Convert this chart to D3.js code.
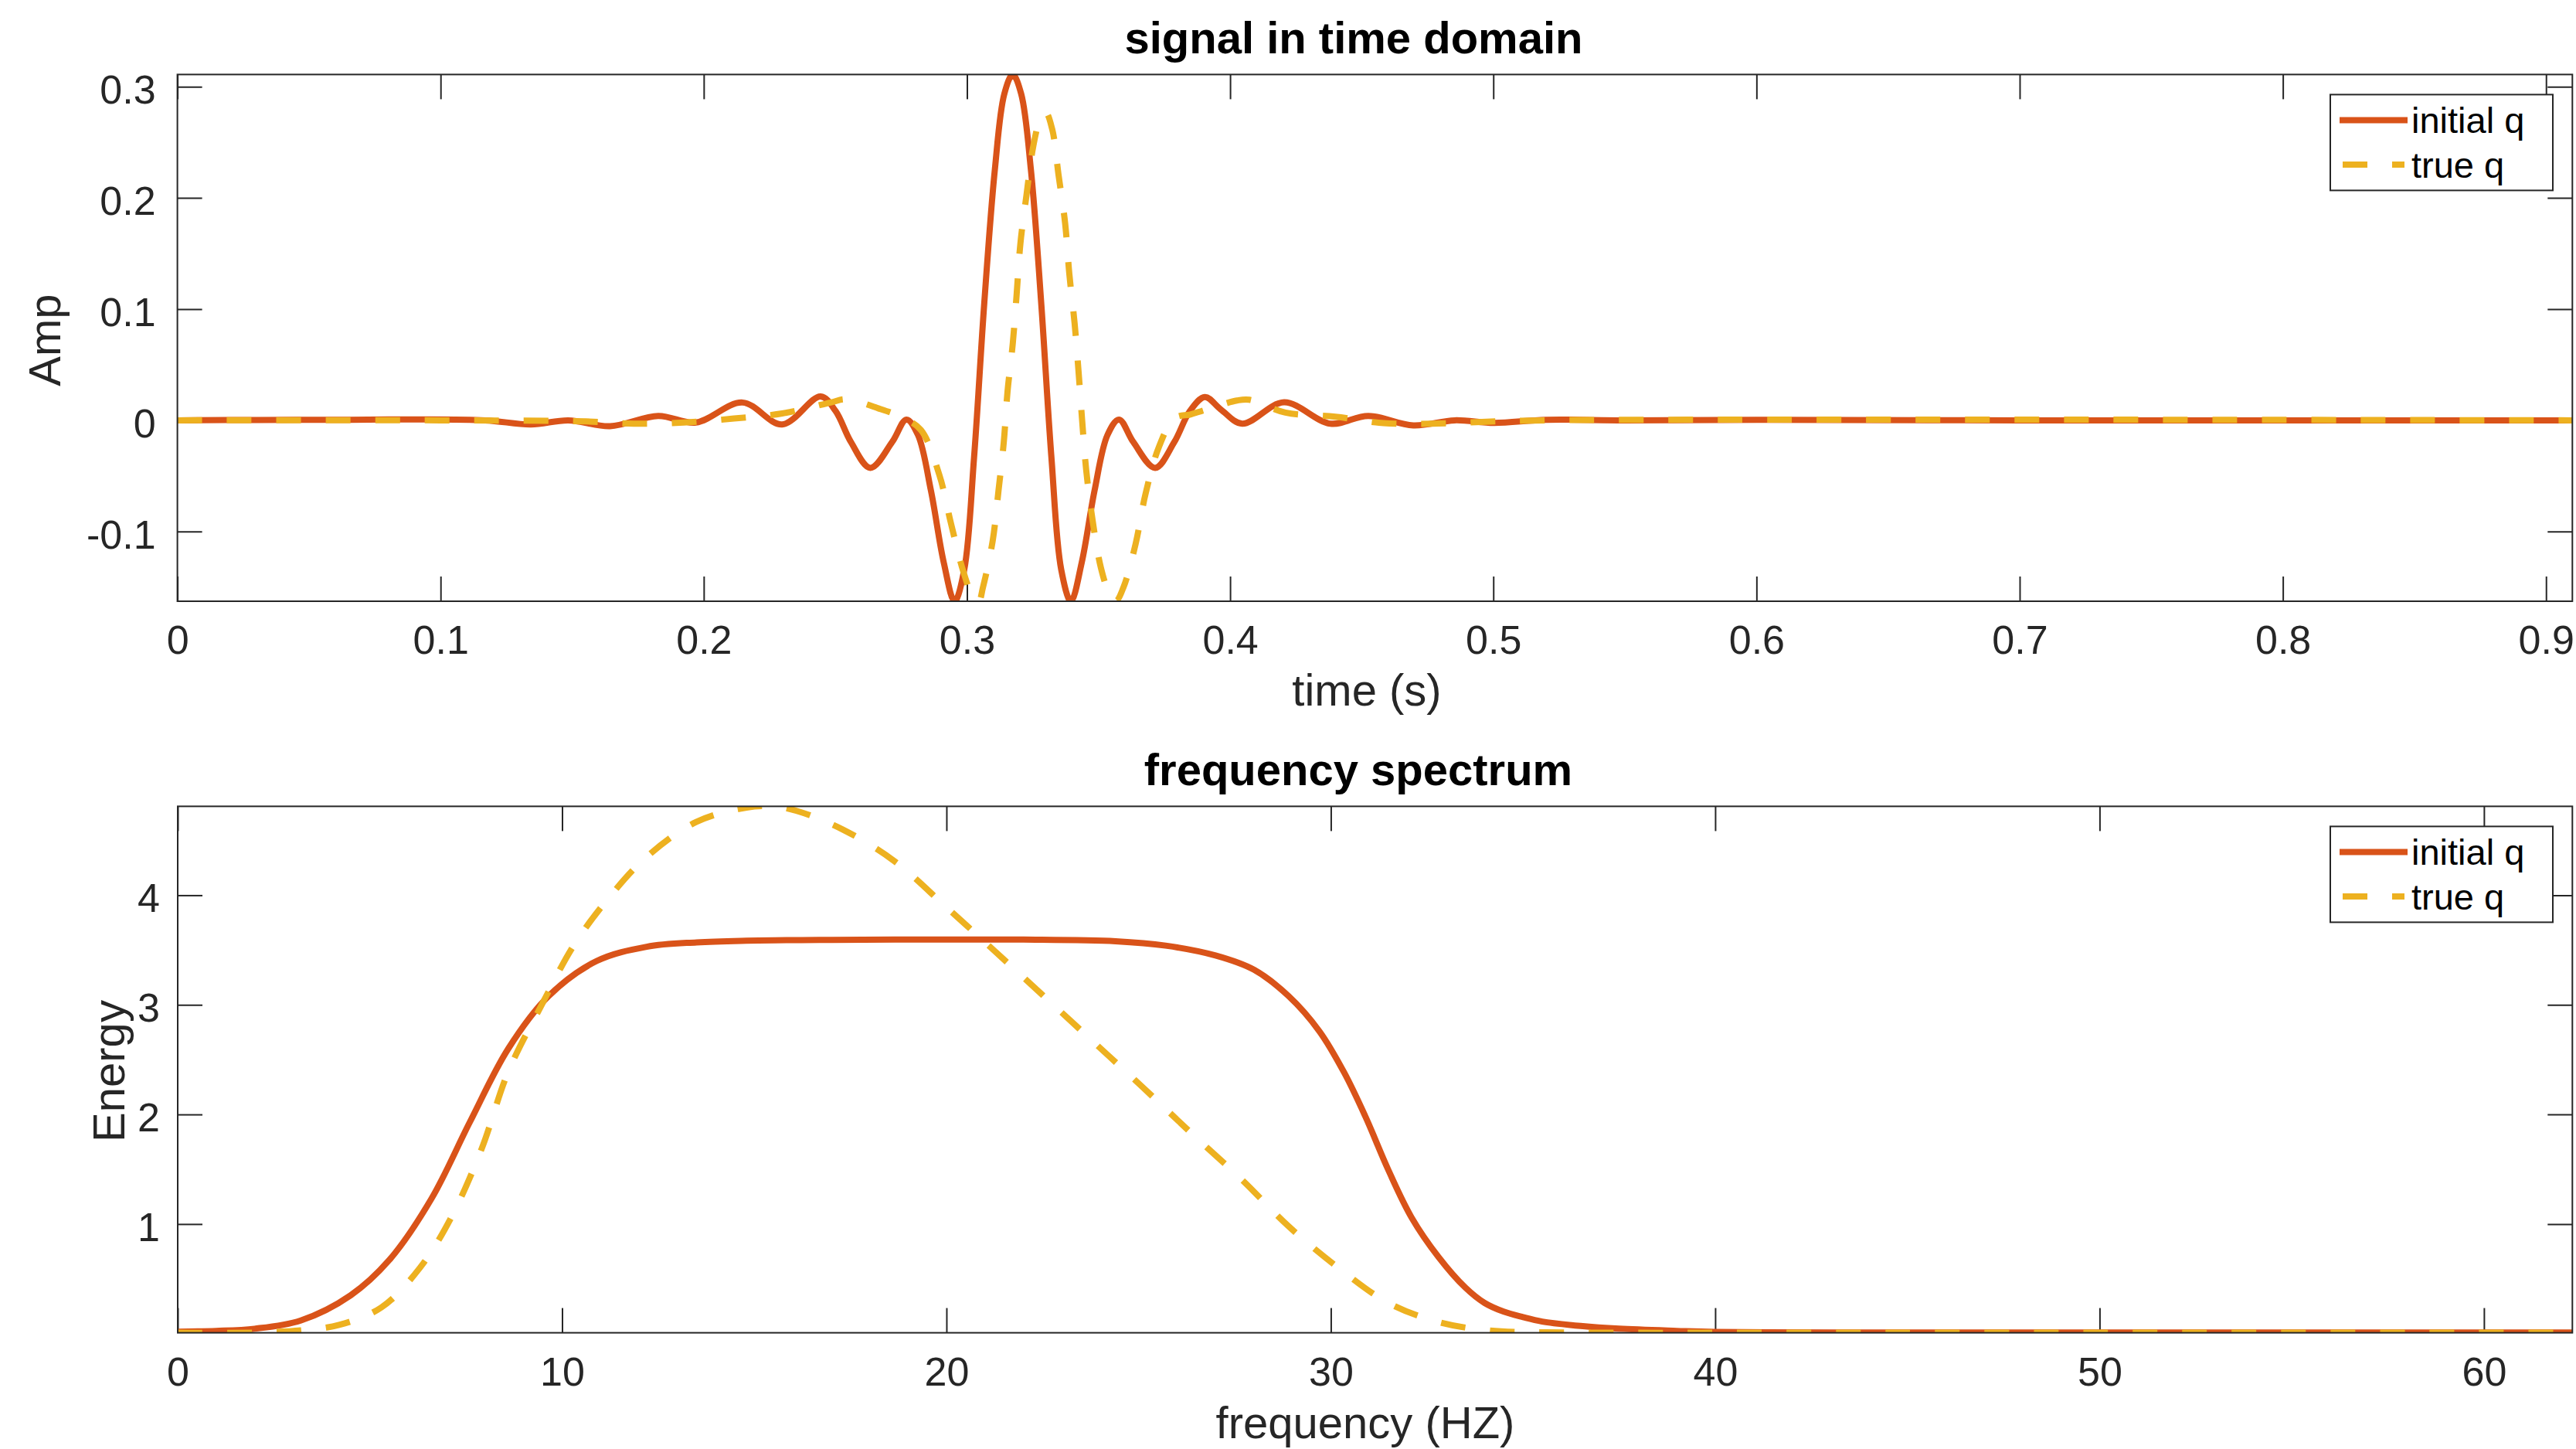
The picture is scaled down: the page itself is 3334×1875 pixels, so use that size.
<!DOCTYPE html>
<html>
<head>
<meta charset="utf-8">
<script src="https://cdn.jsdelivr.net/npm/d3@7"></script>
<style>
  body { margin: 0; background: #fff; }
  text { font-family: "Liberation Sans", Arial, Helvetica, sans-serif; }
</style>
</head>
<body>
<svg id="fig" width="3334" height="1875"></svg>
<script>
// ---- time domain ----
var timeInit = [0, 0.03, 0.065, 0.09, 0.117, 0.1343, 0.1485, 0.1644, 0.1827, 0.1970,
  0.2147, 0.2298, 0.2444, 0.2501, 0.2559, 0.2633, 0.2716, 0.2770, 0.2814, 0.2863,
  0.2912, 0.2953, 0.2990, 0.3027, 0.3066, 0.3106, 0.3142, 0.3174, 0.3206, 0.3243,
  0.3282, 0.3321, 0.3358, 0.3395, 0.3436, 0.3485, 0.3534, 0.3578, 0.3632, 0.3715,
  0.3788, 0.3847, 0.3904, 0.3964, 0.4046, 0.4205, 0.4381, 0.4525, 0.4696, 0.4853,
  0.5003, 0.52, 0.55, 0.6, 0.7, 0.8, 0.91];
var ampInit = [0, 0.0003, 0.0005, 0.0008, 0.0, -0.0037, 0.0, -0.0053, 0.0040, -0.0020,
  0.0160, -0.0037, 0.0215, 0.0083, -0.0195, -0.0428, -0.0195, 0.0007, -0.0132, -0.063,
  -0.128, -0.1627, -0.134, -0.0335, 0.106, 0.2254, 0.2936, 0.311, 0.2936, 0.2254,
  0.106, -0.0335, -0.134, -0.1627, -0.128, -0.063, -0.0132, 0.0007, -0.0195, -0.0428,
  -0.0195, 0.0083, 0.0210, 0.0099, -0.003, 0.0162, -0.003, 0.004, -0.0046, 0.0,
  -0.0023, 0.0005, 0, 0.0004, 0, 0, 0];

var timeTrue = [0, 0.10, 0.1552, 0.1734, 0.1924, 0.2115, 0.2298, 0.2482, 0.2540, 0.2663,
  0.2750, 0.2825, 0.2895, 0.2939, 0.2986, 0.3020, 0.3045, 0.3061, 0.3098, 0.3120,
  0.3140, 0.3154, 0.3174, 0.3189, 0.3203, 0.3226, 0.3252, 0.3275, 0.3300, 0.3324,
  0.3348, 0.3373, 0.3389, 0.3409, 0.3424, 0.3438, 0.3453, 0.3477, 0.3509, 0.3540,
  0.3566, 0.3595, 0.3641, 0.3678, 0.3729, 0.3789, 0.3849, 0.3900, 0.4026, 0.4073,
  0.4210, 0.4400, 0.4583, 0.4768, 0.4956, 0.52, 0.91];
var ampTrue = [0, 0, -0.001, -0.003, -0.002, 0.0016, 0.0062, 0.0160, 0.0190, 0.0108,
  0.003, -0.0087, -0.049, -0.0924, -0.1358, -0.157, -0.1625, -0.150, -0.108, -0.063,
  -0.0195, 0.0254, 0.0688, 0.1138, 0.1587, 0.2021, 0.2465, 0.268, 0.2765, 0.2617,
  0.2207, 0.1773, 0.1317, 0.0874, 0.044, -0.001, -0.0444, -0.0893, -0.1326, -0.155,
  -0.1625, -0.150, -0.111, -0.0667, -0.0242, 0.002, 0.0053, 0.0090, 0.0178, 0.0185,
  0.0069, 0.0032, -0.0025, -0.003, -0.0014, 0, 0];

// ---- frequency spectrum ----
var freqInit = [0, 1, 2, 3.2, 4.5, 5.5, 6.6, 7.6, 8.6, 9.65,
  10.9, 12.2, 13.5, 14.8, 17, 19.5, 22, 24.4, 25.7, 27.0,
  28.0, 28.9, 29.7, 30.35, 30.9, 31.5, 32.1, 32.8, 33.5, 34.0,
  34.5, 35.0, 35.5, 36.5, 37.5, 39, 40, 45, 50, 55, 62.3];
var energyInit = [0.018, 0.025, 0.045, 0.12, 0.35, 0.67, 1.23, 1.93, 2.60, 3.08,
  3.40, 3.53, 3.57, 3.585, 3.593, 3.596, 3.595, 3.58, 3.54, 3.45,
  3.32, 3.08, 2.76, 2.38, 1.98, 1.49, 1.06, 0.70, 0.42, 0.28,
  0.20, 0.15, 0.11, 0.07, 0.045, 0.025, 0.015, 0.01, 0.01, 0.01, 0.01];

var freqTrue = [0, 2, 3.2, 4.2, 5.3, 6.3, 7.1, 7.9, 8.6, 9.5,
  10.3, 11.2, 12.2, 13.5, 14.8, 15.5, 16.1, 17.3, 18.65, 20.0,
  21.1, 22.5, 23.8, 25.1, 26.4, 27.7, 28.9, 30.2, 31.5, 32.8,
  34.1, 35.6, 38, 40, 50, 62.3];
var energyTrue = [0.008, 0.01, 0.03, 0.08, 0.24, 0.60, 1.05, 1.68, 2.39, 3.02,
  3.54, 3.97, 4.35, 4.67, 4.80, 4.81, 4.77, 4.60, 4.31, 3.89,
  3.54, 3.09, 2.67, 2.25, 1.82, 1.40, 0.98, 0.60, 0.28, 0.106,
  0.03, 0.012, 0.008, 0.008, 0.008, 0.008];

// ---- ticks / labels ----
var timeTicks = [0, 0.1, 0.2, 0.3, 0.4, 0.5, 0.6, 0.7, 0.8, 0.9];
var ampTicks = [-0.1, 0, 0.1, 0.2, 0.3];
var freqTicks = [0, 10, 20, 30, 40, 50, 60];
var energyTicks = [1, 2, 3, 4];
var seriesNames = ["initial q", "true q"];
var seriesColors = ["#D95319", "#EDB120"];

function zip(xs, ys) { return xs.map(function (v, i) { return [v, ys[i]]; }); }

var svg = d3.select("#fig");
svg.append("rect").attr("width", 3334).attr("height", 1875).attr("fill", "#fff");

var axisColor = "#262626";

function drawPanel(opt) {
  var g = svg.append("g");
  var x = d3.scaleLinear().domain(opt.xDomain).range([opt.left, opt.right]);
  var y = d3.scaleLinear().domain(opt.yDomain).range([opt.bottom, opt.top]);

  function styleAxis(sel) {
    sel.select(".domain").remove();
    sel.selectAll(".tick line").attr("stroke", axisColor).attr("stroke-width", 2);
    sel.selectAll(".tick text").attr("fill", axisColor).attr("font-size", 52)
      .attr("font-family", '"Liberation Sans", Arial, sans-serif');
  }

  g.append("g").attr("transform", "translate(0," + opt.bottom + ")")
    .call(d3.axisBottom(x).tickValues(opt.xTicks).tickSize(-32).tickPadding(31)
      .tickFormat(function (d) { return String(d); }))
    .call(styleAxis);
  g.append("g").attr("transform", "translate(0," + opt.top + ")")
    .call(d3.axisTop(x).tickValues(opt.xTicks).tickSize(-32).tickFormat(""))
    .call(styleAxis);
  var ya = g.append("g").attr("transform", "translate(" + opt.left + ",0)")
    .call(d3.axisLeft(y).tickValues(opt.yTicks).tickSize(-32).tickPadding(opt.yPad)
      .tickFormat(function (d) { return String(d); }))
    .call(styleAxis);
  ya.selectAll(".tick text").attr("dy", "0.41em");
  g.append("g").attr("transform", "translate(" + opt.right + ",0)")
    .call(d3.axisRight(y).tickValues(opt.yTicks).tickSize(-32).tickFormat(""))
    .call(styleAxis);

  // clip lines to the axes box like MATLAB does
  var clipId = "clip" + opt.id;
  svg.append("defs").append("clipPath").attr("id", clipId)
    .append("rect").attr("x", opt.left).attr("y", opt.top)
    .attr("width", opt.right - opt.left).attr("height", opt.bottom - opt.top);

  var line = d3.line()
    .x(function (d) { return x(d[0]); })
    .y(function (d) { return y(d[1]); })
    .curve(d3.curveCatmullRom.alpha(0.5));

  var lines = g.append("g").attr("clip-path", "url(#" + clipId + ")");
  opt.series.forEach(function (s, i) {
    lines.append("path")
      .datum(s)
      .attr("fill", "none")
      .attr("stroke", seriesColors[i])
      .attr("stroke-width", 8)
      .attr("stroke-linejoin", "round")
      .attr("stroke-dasharray", i === 1 ? "32,32" : null)
      .attr("d", line);
  });

  g.append("rect")
    .attr("x", opt.left).attr("y", opt.top)
    .attr("width", opt.right - opt.left).attr("height", opt.bottom - opt.top)
    .attr("fill", "none").attr("stroke", axisColor).attr("stroke-width", 2);

  // title and labels
  g.append("text").attr("x", opt.titleX).attr("y", opt.top - 27)
    .attr("text-anchor", "middle").attr("font-size", 58).attr("font-weight", "bold")
    .attr("fill", "#000").text(opt.title);
  g.append("text").attr("x", opt.xLabelX).attr("y", opt.bottom + opt.xLabelDy)
    .attr("text-anchor", "middle").attr("font-size", 58).attr("fill", axisColor)
    .text(opt.xLabel);
  g.append("text")
    .attr("transform", "translate(" + opt.yLabelX + "," + opt.yLabelY + ") rotate(-90)")
    .attr("text-anchor", "middle").attr("font-size", 58).attr("fill", axisColor)
    .text(opt.yLabel);

  // legend
  var lx = 3016, lw = 288, lh = 124, ly = opt.top + 26;
  var lg = g.append("g");
  lg.append("rect").attr("x", lx).attr("y", ly).attr("width", lw).attr("height", lh)
    .attr("fill", "#fff").attr("stroke", axisColor).attr("stroke-width", 2);
  seriesNames.forEach(function (name, i) {
    var ry = ly + 33 + i * 57.5;
    lg.append("line")
      .attr("x1", i === 1 ? lx + 16 : lx + 12).attr("x2", i === 1 ? lx + 96 : lx + 100)
      .attr("y1", ry).attr("y2", ry)
      .attr("stroke", seriesColors[i]).attr("stroke-width", 8)
      .attr("stroke-dasharray", i === 1 ? "32,32" : null);
    lg.append("text").attr("x", lx + 105).attr("y", ry + 17)
      .attr("font-size", 47).attr("fill", "#000").text(name);
  });
}

drawPanel({
  id: "time",
  left: 229.6, right: 3329.3, top: 96.4, bottom: 778,
  xDomain: [0, 0.91], yDomain: [-0.1627, 0.311],
  xTicks: timeTicks, yTicks: ampTicks, yPad: 28,
  series: [zip(timeInit, ampInit), zip(timeTrue, ampTrue)],
  title: "signal in time domain", titleX: 1752,
  xLabel: "time (s)", xLabelX: 1769, xLabelDy: 135,
  yLabel: "Amp", yLabelX: 78, yLabelY: 440
});

drawPanel({
  id: "freq",
  left: 230, right: 3329.3, top: 1043.4, bottom: 1724.6,
  xDomain: [0, 62.3], yDomain: [0.008, 4.811],
  xTicks: freqTicks, yTicks: energyTicks, yPad: 23,
  series: [zip(freqInit, energyInit), zip(freqTrue, energyTrue)],
  title: "frequency spectrum", titleX: 1758,
  xLabel: "frequency (HZ)", xLabelX: 1767, xLabelDy: 136,
  yLabel: "Energy", yLabelX: 161, yLabelY: 1386
});
</script>
</body>
</html>
